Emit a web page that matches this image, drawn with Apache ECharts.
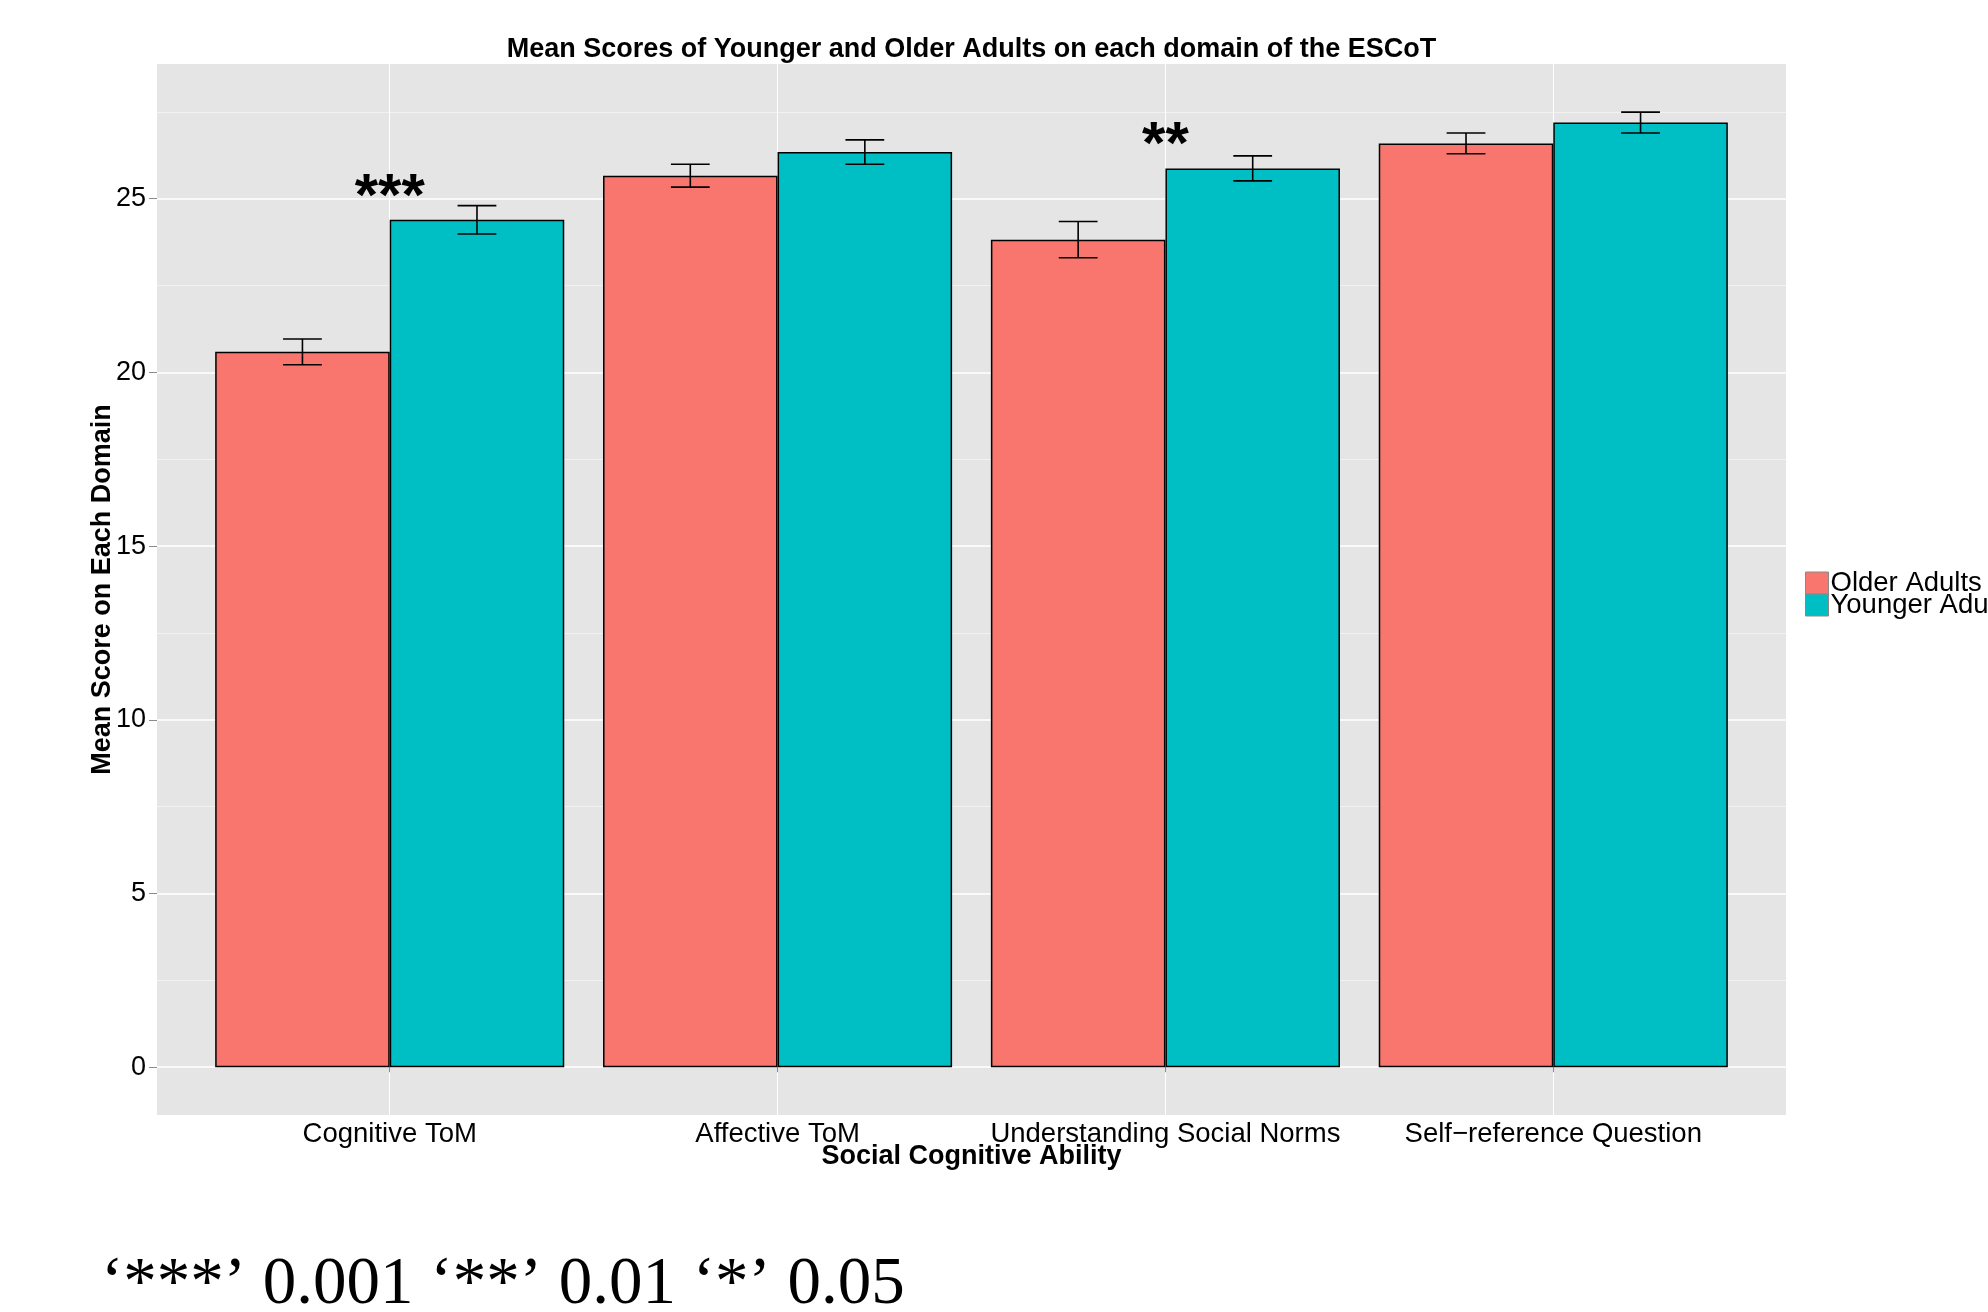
<!DOCTYPE html>
<html>
<head>
<meta charset="utf-8">
<script src="https://cdn.jsdelivr.net/npm/echarts@6/dist/echarts.min.js"></script>
<style>
html,body{margin:0;padding:0;background:#ffffff;}
#chart{width:1988px;height:1312px;}
</style>
</head>
<body>
<div id="chart"></div>
<script>
// ---------------- data ----------------
const categories = ['Cognitive ToM', 'Affective ToM', 'Understanding Social Norms', 'Self\u2212reference Question'];
const seriesNames = ['Older Adults', 'Younger Adults'];
const olderMeans = [20.59, 25.66, 23.82, 26.59];
const youngerMeans = [24.39, 26.34, 25.87, 27.19];
const olderSE = [0.37, 0.33, 0.52, 0.30];
const youngerSE = [0.41, 0.35, 0.36, 0.30];
const starLabels = ['***', '', '**', ''];
const starY = [25, null, 26.5, null];
const yTicks = [0, 5, 10, 15, 20, 25];
const chartTitle = 'Mean Scores of Younger and Older Adults on each domain of the ESCoT';
const xTitle = 'Social Cognitive Ability';
const yTitle = 'Mean Score on Each Domain';
const footnote = '\u2018***\u2019 0.001 \u2018**\u2019 0.01 \u2018*\u2019 0.05';

// ---------------- layout ----------------
const W = 1988, H = 1312;
const PANEL = { left: 157, right: 202, top: 64, bottom: 197 };
const Y_LO = -1.375, Y_HI = 28.875;      // panel value range (ggplot expansion)
const GRID_MAX = 30;                     // value range of the gridline grid [0, 30]
const X_EXPAND = 0.6;                    // ggplot discrete expansion (category units)
const panelW = W - PANEL.left - PANEL.right;
const panelH = H - PANEL.top - PANEL.bottom;
const pxPerUnit = panelH / (Y_HI - Y_LO);
const y0px = PANEL.top + Y_HI * pxPerUnit;
const innerTop = y0px - GRID_MAX * pxPerUnit;
const innerBottom = H - y0px;
const bandPx = panelW / (categories.length - 1 + 2 * X_EXPAND);
const xOff = (X_EXPAND - 0.5) * bandPx;
const panelCx = PANEL.left + panelW / 2;
const panelCy = PANEL.top + panelH / 2;

const FONT = "'Liberation Sans', Arial, Helvetica, sans-serif";
const colors = ['#F8766D', '#00BFC4'];
const BAR_FRAC = 0.45;

function errRender(sign) {
  return function (params, api) {
    const ci = api.value(0);
    const lo = api.coord([ci, api.value(1)]);
    const hi = api.coord([ci, api.value(2)]);
    const band = api.size([1, 0])[0];
    const x = lo[0] + sign * band * BAR_FRAC / 2;
    const hw = band * 0.05;
    const st = { stroke: '#000', lineWidth: 1.6, fill: null };
    return {
      type: 'group',
      children: [
        { type: 'line', shape: { x1: x, y1: hi[1], x2: x, y2: lo[1] }, style: st },
        { type: 'line', shape: { x1: x - hw, y1: hi[1], x2: x + hw, y2: hi[1] }, style: st },
        { type: 'line', shape: { x1: x - hw, y1: lo[1], x2: x + hw, y2: lo[1] }, style: st }
      ]
    };
  };
}

const starData = [];
starLabels.forEach((s, i) => { if (s) starData.push({ value: [i, starY[i]], name: s }); });

const chart = echarts.init(document.getElementById('chart'), null, { renderer: 'canvas' });
chart.setOption({
  animation: false,
  backgroundColor: '#ffffff',
  grid: [
    // 0: panel background
    { left: PANEL.left, right: PANEL.right, top: PANEL.top, bottom: PANEL.bottom,
      show: true, backgroundColor: '#e5e5e5', borderWidth: 0, containLabel: false },
    // 1: bars + category axis (inset by discrete expansion)
    { left: PANEL.left + xOff, right: PANEL.right + xOff, top: PANEL.top, bottom: PANEL.bottom,
      show: false, containLabel: false },
    // 2: value axis + horizontal grid lines
    { left: PANEL.left, right: PANEL.right, top: innerTop, bottom: innerBottom,
      show: false, containLabel: false }
  ],
  xAxis: [
    { type: 'category', gridIndex: 0, data: categories, show: false },
    { type: 'category', gridIndex: 1, data: categories, boundaryGap: true,
      axisLine: { show: false },
      axisTick: { show: true, alignWithLabel: true, length: 5, lineStyle: { color: '#8a8a8a', width: 1 } },
      axisLabel: { interval: 0, fontSize: 27.5, color: '#000', margin: 5, fontFamily: FONT },
      splitLine: { show: true, alignWithLabel: true, lineStyle: { color: '#ffffff', width: 1 } } },
    { type: 'category', gridIndex: 2, data: categories, show: false }
  ],
  yAxis: [
    { type: 'value', gridIndex: 0, min: Y_LO, max: Y_HI, show: false, splitLine: { show: false } },
    { type: 'value', gridIndex: 1, min: Y_LO, max: Y_HI, show: false, splitLine: { show: false } },
    { type: 'value', gridIndex: 2, min: 0, max: GRID_MAX, interval: 5,
      axisLine: { show: false },
      axisTick: { show: true, length: 8, customValues: yTicks, lineStyle: { color: '#8a8a8a', width: 1 } },
      axisLabel: { customValues: yTicks, fontSize: 27, color: '#000', margin: 11, fontFamily: FONT },
      splitLine: { show: true, lineStyle: { color: '#ffffff', width: 1.6 } },
      minorTick: { show: false, splitNumber: 2 },
      minorSplitLine: { show: true, lineStyle: { color: '#f2f2f2', width: 1.2 } } }
  ],
  legend: {
    data: seriesNames, orient: 'vertical', left: 1800, top: 564,
    itemWidth: 23, itemHeight: 22, itemGap: -6, icon: 'rect', selectedMode: false,
    itemStyle: { borderColor: '#8a8a8a', borderWidth: 1 },
    textStyle: { fontSize: 27.5, color: '#000', fontFamily: FONT, padding: [0, 0, 0, -3] }
  },
  series: [
    { name: seriesNames[0], type: 'bar', xAxisIndex: 1, yAxisIndex: 1, data: olderMeans,
      barWidth: (BAR_FRAC * 100) + '%', barGap: '0%',
      itemStyle: { color: colors[0], borderColor: '#000', borderWidth: 1.5 }, z: 3 },
    { name: seriesNames[1], type: 'bar', xAxisIndex: 1, yAxisIndex: 1, data: youngerMeans,
      barWidth: (BAR_FRAC * 100) + '%', barGap: '0%',
      itemStyle: { color: colors[1], borderColor: '#000', borderWidth: 1.5 }, z: 3 },
    { name: 'errOlder', type: 'custom', xAxisIndex: 1, yAxisIndex: 1, z: 5,
      renderItem: errRender(-1), encode: { x: 0, y: [1, 2] },
      data: olderMeans.map((m, i) => [i, m - olderSE[i], m + olderSE[i]]) },
    { name: 'errYounger', type: 'custom', xAxisIndex: 1, yAxisIndex: 1, z: 5,
      renderItem: errRender(1), encode: { x: 0, y: [1, 2] },
      data: youngerMeans.map((m, i) => [i, m - youngerSE[i], m + youngerSE[i]]) },
    { name: 'stars', type: 'custom', xAxisIndex: 1, yAxisIndex: 1, z: 6,
      renderItem: function (params, api) {
        const p = api.coord([api.value(0), api.value(1)]);
        return { type: 'text', x: p[0], y: p[1],
          style: { text: starData[params.dataIndex].name, align: 'center', verticalAlign: 'middle',
                   fontSize: 60, fontWeight: 'bold', fontFamily: FONT, fill: '#000' } };
      },
      data: starData }
  ],
  graphic: [
    { type: 'text', x: panelCx, y: 50, style: { text: chartTitle, align: 'center', verticalAlign: 'middle',
        fontSize: 27, fontWeight: 'bold', fontFamily: FONT, fill: '#000' } },
    { type: 'text', x: panelCx, y: 1157, style: { text: xTitle, align: 'center', verticalAlign: 'middle',
        fontSize: 27, fontWeight: 'bold', fontFamily: FONT, fill: '#000' } },
    { type: 'text', x: 103, y: panelCy, rotation: Math.PI / 2, style: { text: yTitle, align: 'center', verticalAlign: 'middle',
        fontSize: 27, fontWeight: 'bold', fontFamily: FONT, fill: '#000' } },
    { type: 'text', x: 101, y: 1285, style: { text: footnote, align: 'left', verticalAlign: 'middle',
        fontSize: 67, fontFamily: "'Liberation Serif', 'Times New Roman', serif", fill: '#000' } }
  ]
});
</script>
</body>
</html>
